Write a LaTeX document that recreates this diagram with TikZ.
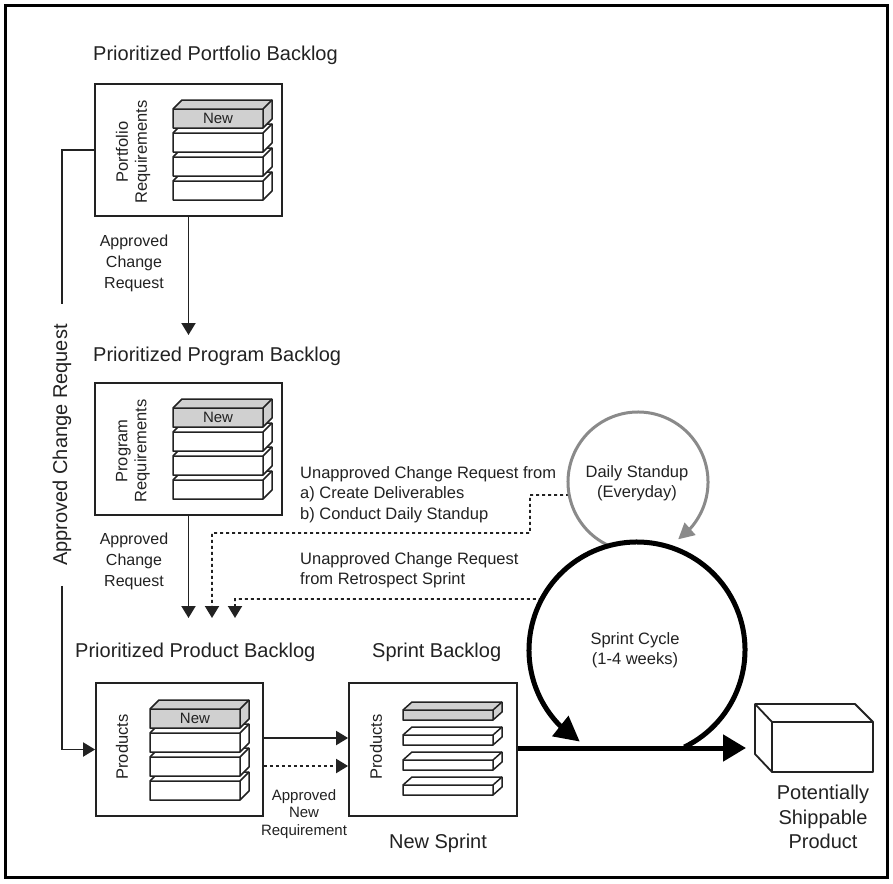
\documentclass[tikz,border=0pt]{standalone}
\usepackage{fontspec}
\setmainfont{Liberation Sans}
\usetikzlibrary{arrows.meta,bending,calc}
\definecolor{ink}{HTML}{222222}
\definecolor{slabgrey}{HTML}{D0D0D0}
\definecolor{loopgrey}{HTML}{8A8A8A}
% #1 x, #2 y (front top-left), #3 width, #4 height, #5 depth x, #6 depth y, #7 fill
\newcommand{\myslab}[7]{%
  \filldraw[slabline,fill=#7] (#1,#2) -- ++(#5,-#6) -- ++(#3,0) -- ++(0,#4) -- ++(-#5,#6) -- ++(-#3,0) -- cycle;
  \draw[slabline] (#1,#2) -- ++(#3,0) -- ++(#5,-#6) (#1+#3,#2) -- ++(0,#4);
}
\begin{document}
\begin{tikzpicture}[x=1pt,y=-1pt,
  every node/.style={text=ink},
  title/.style={font=\fontsize{20}{24}\selectfont, anchor=base west, inner sep=0pt},
  lbl/.style={font=\fontsize{16.5}{20}\selectfont, align=center, inner sep=0pt},
  box/.style={draw=ink, line width=1.8pt, fill=white, inner sep=0pt},
  slabline/.style={draw=ink, line width=1.5pt, line join=round},
  conn/.style={draw=ink, line width=1.9pt},
  dotconn/.style={draw=ink, line width=1.9pt, dash pattern=on 3pt off 3pt},
  arrowtip/.style={-{Triangle[length=12pt,width=14pt]}},
]
\useasboundingbox (0,0) rectangle (893,883);
\fill[white] (0,0) rectangle (893,883);
\draw[line width=3pt, black] (5.5,5.5) rectangle (887.5,877.5);

% titles
\node[title] (t1) at (93,60) {Prioritized Portfolio Backlog};
\node[title] (t2) at (93,361) {Prioritized Program Backlog};
\node[title] (t3) at (75,657) {Prioritized Product Backlog};
\node[title] (t4) at (372,657) {Sprint Backlog};

% boxes
\node[box, minimum width=187pt, minimum height=132pt] (port) at (188.5,150) {};
\node[box, minimum width=187pt, minimum height=132pt] (prog) at (188.5,449) {};
\node[box, minimum width=167pt, minimum height=133pt] (prod) at (179.5,749.5) {};
\node[box, minimum width=168pt, minimum height=133pt] (spr) at (433,749.5) {};

% portfolio stack
\myslab{173}{181}{90}{19}{9}{9}{white}
\myslab{173}{157}{90}{19}{9}{9}{white}
\myslab{173}{133}{90}{19}{9}{9}{white}
\myslab{173}{109}{90}{19}{9}{9}{slabgrey}
\node[lbl, font=\fontsize{15}{18}\selectfont] (new1) at (218,118.5) {New};
% program stack
\myslab{173}{480}{90}{19}{9}{9}{white}
\myslab{173}{456}{90}{19}{9}{9}{white}
\myslab{173}{432}{90}{19}{9}{9}{white}
\myslab{173}{408}{90}{19}{9}{9}{slabgrey}
\node[lbl, font=\fontsize{15}{18}\selectfont] (new2) at (218,417.5) {New};
% product stack
\myslab{150}{781}{90}{19}{9}{9}{white}
\myslab{150}{757}{90}{19}{9}{9}{white}
\myslab{150}{733}{90}{19}{9}{9}{white}
\myslab{150}{709}{90}{19}{9}{9}{slabgrey}
\node[lbl, font=\fontsize{15}{18}\selectfont] (new3) at (195,718.5) {New};
% sprint stack
\myslab{403}{785}{90}{10}{9}{8}{white}
\myslab{403}{760}{90}{10}{9}{8}{white}
\myslab{403}{735}{90}{10}{9}{8}{white}
\myslab{403}{710}{90}{10}{9}{8}{slabgrey}

% vertical labels
\node[lbl, rotate=90, font=\fontsize{16.5}{19}\selectfont] (pr1) at (133,152) {Portfolio\\Requirements};
\node[lbl, rotate=90, font=\fontsize{16.5}{19}\selectfont] (pr2) at (133,451) {Program\\Requirements};
\node[lbl, rotate=90] (pr3) at (122,747) {Products};
\node[lbl, rotate=90] (pr4) at (376,747) {Products};

% vertical connectors
\coordinate (a1) at (188.5,335);
\draw[conn,arrowtip] (port.south) -- (a1);
\node[lbl, font=\fontsize{16}{21}\selectfont] (acr1) at (134,263) {Approved\\Change\\Request};
\coordinate (a2) at (188.5,618);
\draw[conn,arrowtip] (prog.south) -- (a2);
\node[lbl, font=\fontsize{16}{21}\selectfont] (acr2) at (134,561) {Approved\\Change\\Request};

% left connector
\node[rotate=90, font=\fontsize{20}{24}\selectfont, inner sep=0pt] (acrl) at (62,445) {Approved Change Request};
\draw[conn] (port.west) -| ([yshift=20pt]acrl.east);
\draw[conn,arrowtip] ([yshift=-20pt]acrl.west) |- (prod.west);

% circles
\coordinate (dsc) at (638,482);
\coordinate (scc) at (637,650);
\node[lbl] (dstext) at (637,483) {Daily Standup\\(Everyday)};
\node[lbl] (sctext) at (635,650) {Sprint Cycle\\(1-4 weeks)};

% dotted feedback connectors
\coordinate (a3) at (212,618);
\coordinate (a4) at (235,618);
\draw[dotconn,arrowtip] ($(dsc)+(169.3:70)$) -- (530,495) -- (530,533) -- (212,533) -- (a3);
\draw[dotconn,arrowtip] ($(scc)+(208.2:108)$) -- (235,599) -- (a4);
\node[lbl, align=left, anchor=west, font=\fontsize{16.5}{20.5}\selectfont] (u1) at (300,494.5) {Unapproved Change Request from\\a) Create Deliverables\\b) Conduct Daily Standup};
\node[lbl, align=left, anchor=west, font=\fontsize{16.5}{20.5}\selectfont] (u2) at (300,570) {Unapproved Change Request\\from Retrospect Sprint};

% loops
\draw[line width=3pt, loopgrey, -{Triangle[length=16pt,width=16pt]}] ($(dsc)+(-244:70)$) arc[start angle=-244, end angle=55, radius=70];
\draw[line width=5pt, black, -{Triangle[length=25pt,width=25pt]}] ($(scc)+(64:108)$) arc[start angle=64, end angle=-238, radius=108];

% product -> sprint
\draw[conn,arrowtip] ([yshift=11.5pt]prod.east) -- ([yshift=11.5pt]spr.west);
\draw[dotconn,arrowtip] ([yshift=-16.5pt]prod.east) -- ([yshift=-16.5pt]spr.west);
\node[lbl, font=\fontsize{15}{17.5}\selectfont] (anr) at (304,814) {Approved\\New\\Requirement};
\node[lbl, font=\fontsize{20}{24}\selectfont] (ns) at (438,843) {New Sprint};

% output
\coordinate (shipin) at (746,748);
\draw[line width=5pt, black, -{Triangle[length=23pt,width=26pt]}] ([yshift=1.5pt]spr.east) -- (shipin);
\filldraw[draw=ink, fill=white, line width=1.8pt, line join=round] (755,704) -- (855,704) -- (873,722) -- (873,772) -- (772,772) -- (755,754) -- cycle;
\draw[ink, line width=1.8pt, line join=round] (755,704) -- (772,722) -- (873,722) (772,722) -- (772,772);
\node[lbl, font=\fontsize{20}{24.5}\selectfont] (psp) at (823,817) {Potentially\\Shippable\\Product};
\end{tikzpicture}
\end{document}
